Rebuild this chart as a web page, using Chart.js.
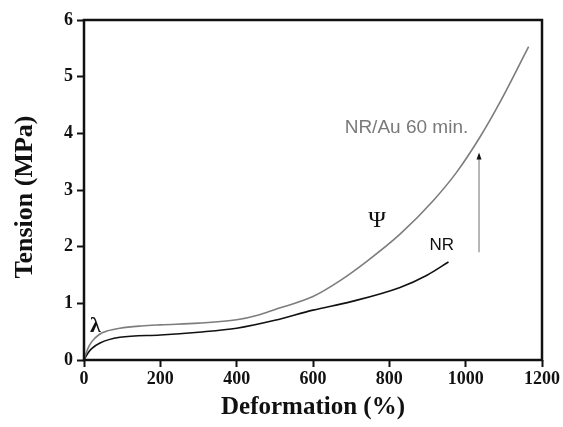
<!DOCTYPE html>
<html>
<head>
<meta charset="utf-8">
<script src="https://cdn.jsdelivr.net/npm/chart.js@4.4.1/dist/chart.umd.min.js"></script>
<style>
    html, body { margin: 0; padding: 0; background: #fff; }
    #wrap { width: 563px; height: 427px; }
</style>
</head>
<body>
<div id="wrap"><canvas id="chart" width="563" height="427"></canvas></div>
<script>
// valores
const auDeform = [0, 10, 20, 40, 60, 94, 150, 200, 300, 400, 460, 514, 600, 671, 741, 828, 916, 977, 1038, 1090, 1165];
const auTension = [0, 0.2, 0.32, 0.45, 0.51, 0.56, 0.6, 0.62, 0.65, 0.71, 0.8, 0.92, 1.12, 1.4, 1.74, 2.22, 2.82, 3.32, 3.94, 4.55, 5.53];

const nrDeform = [0, 10, 20, 42, 94, 200, 300, 400, 500, 600, 700, 828, 900, 955];
const nrTension = [0, 0.12, 0.2, 0.3, 0.4, 0.44, 0.49, 0.56, 0.7, 0.88, 1.03, 1.28, 1.5, 1.73];

const xTicks = [0, 200, 400, 600, 800, 1000, 1200];
const yTicks = [0, 1, 2, 3, 4, 5, 6];

const serif = '"Liberation Serif", "Times New Roman", serif';
const sans = '"Liberation Sans", Arial, sans-serif';

function toPoints(xs, ys) {
    return xs.map((x, i) => ({x: x, y: ys[i]}));
}

const labelsPlugin = {
    id: 'labels',
    afterDraw(chart) {
        const ctx = chart.ctx;
        const area = chart.chartArea;
        const xs = chart.scales.x;
        const ys = chart.scales.y;
        ctx.save();

        // títulos dos eixos
        ctx.fillStyle = '#111';
        ctx.textAlign = 'center';
        ctx.textBaseline = 'middle';
        ctx.font = 'bold 25px ' + serif;
        ctx.fillText('Deformation (%)', (area.left + area.right) / 2, 408);
        ctx.font = 'bold 26px ' + serif;
        ctx.translate(25, 197);
        ctx.rotate(-Math.PI / 2);
        ctx.fillText('Tension (MPa)', 0, 0);
        ctx.setTransform(1, 0, 0, 1, 0, 0);

        // anotações
        ctx.textAlign = 'left';
        ctx.font = '19px ' + sans;
        ctx.fillStyle = '#7a7a7a';
        ctx.fillText('NR/Au 60 min.', xs.getPixelForValue(683), ys.getPixelForValue(4.1));
        ctx.fillStyle = '#111';
        ctx.font = '17px ' + sans;
        ctx.fillText('NR', xs.getPixelForValue(905), ys.getPixelForValue(2.03));
        ctx.font = '24px ' + serif;
        ctx.fillText('Ψ', xs.getPixelForValue(745), ys.getPixelForValue(2.45));
        ctx.font = 'bold 22px ' + serif;
        ctx.fillText('λ', xs.getPixelForValue(16), ys.getPixelForValue(0.6));

        // seta
        const ax = xs.getPixelForValue(1035);
        const y0 = ys.getPixelForValue(1.9);
        const y1 = ys.getPixelForValue(3.66);
        ctx.strokeStyle = '#888';
        ctx.lineWidth = 1.2;
        ctx.beginPath();
        ctx.moveTo(ax, y0);
        ctx.lineTo(ax, y1 + 4);
        ctx.stroke();
        ctx.fillStyle = '#111';
        ctx.beginPath();
        ctx.moveTo(ax, y1);
        ctx.lineTo(ax - 2.5, y1 + 7);
        ctx.lineTo(ax + 2.5, y1 + 7);
        ctx.closePath();
        ctx.fill();

        // moldura
        ctx.strokeStyle = '#111';
        ctx.lineWidth = 2.5;
        ctx.strokeRect(area.left, area.top, area.right - area.left, area.bottom - area.top);
        ctx.restore();
    }
};

const ctx = document.getElementById('chart').getContext('2d');
const chart = new Chart(ctx, {
    type: 'line',
    data: {
        datasets: [{
            label: 'NR/Au 60 min.',
            data: toPoints(auDeform, auTension),
            borderColor: '#7d7d7d',
            borderWidth: 1.6,
            pointRadius: 0,
            cubicInterpolationMode: 'monotone'
        }, {
            label: 'NR',
            data: toPoints(nrDeform, nrTension),
            borderColor: '#111',
            borderWidth: 1.6,
            pointRadius: 0,
            cubicInterpolationMode: 'monotone'
        }]
    },
    options: {
        responsive: false,
        animation: false,
        layout: {padding: {left: 0, top: 20, right: 21, bottom: 0}},
        plugins: {legend: {display: false}, tooltip: {enabled: false}},
        scales: {
            x: {
                type: 'linear',
                min: 0,
                max: 1200,
                afterFit(scale) { scale.height = 67; },
                afterBuildTicks(scale) { scale.ticks = xTicks.map(v => ({value: v})); },
                grid: {drawOnChartArea: false, tickLength: 7, tickWidth: 2, color: '#111'},
                border: {display: false},
                ticks: {
                    color: '#111',
                    padding: 2,
                    maxRotation: 0,
                    callback: v => String(v),
                    font: {family: serif, size: 18, weight: 'bold'}
                }
            },
            y: {
                min: 0,
                max: 6,
                afterFit(scale) { scale.width = 84; },
                afterBuildTicks(scale) { scale.ticks = yTicks.map(v => ({value: v})); },
                grid: {drawOnChartArea: false, tickLength: 7, tickWidth: 2, color: '#111'},
                border: {display: false},
                ticks: {
                    color: '#111',
                    padding: 4,
                    callback: v => String(v),
                    font: {family: serif, size: 18, weight: 'bold'}
                }
            }
        }
    },
    plugins: [labelsPlugin]
});
</script>
</body>
</html>
